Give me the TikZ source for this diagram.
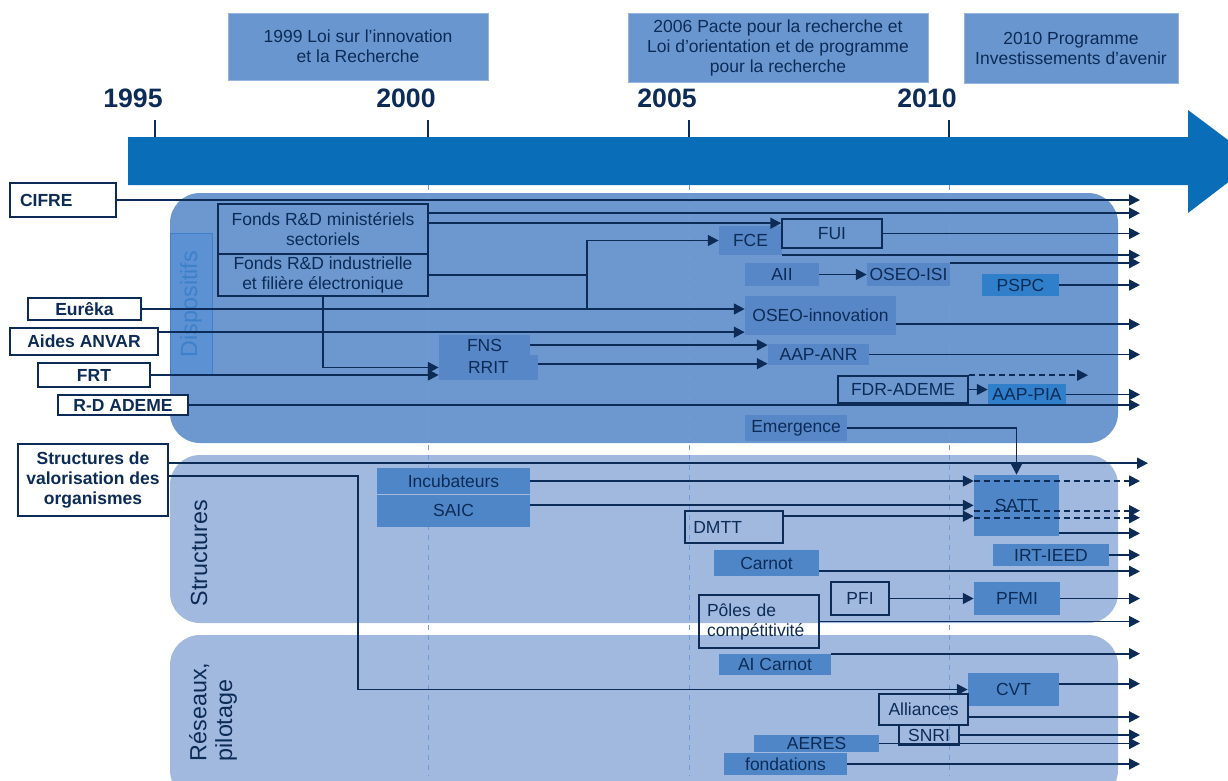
\documentclass[tikz,border=0pt]{standalone}
\usepackage{fontspec}
\setmainfont{Liberation Sans}
\usetikzlibrary{arrows.meta,calc,positioning}

\definecolor{navy}{HTML}{0C2C57}
\definecolor{timeblue}{HTML}{0A6DB7}
\definecolor{lawblue}{HTML}{6A96D0}
\definecolor{dispblue}{HTML}{6C98CF}
\definecolor{structblue}{HTML}{A1B9DF}
\definecolor{boxdark}{HTML}{5887C7}
\definecolor{boxmid}{HTML}{4F86C8}
\definecolor{boxbright}{HTML}{2F7FCB}
\definecolor{gridblue}{HTML}{6F9BD6}
\definecolor{dispbox}{HTML}{5C91D4}
\definecolor{disptext}{HTML}{3F80CA}

\begin{document}
\begin{tikzpicture}[x=0.6pt,y=-0.6pt,
  every node/.style={font=\fontsize{10.5}{12}\selectfont, text=navy, inner sep=1pt, align=center},
  law/.style={fill=lawblue, draw=lawblue!70!white, line width=0.6pt},
  year/.style={font=\fontsize{16}{18}\selectfont\bfseries},
  side/.style={draw=navy, fill=white, line width=1pt, font=\fontsize{10.5}{12}\selectfont\bfseries},
  frame/.style={draw=navy, line width=1pt},
  dark/.style={fill=boxdark},
  mid/.style={fill=boxmid},
  bright/.style={fill=boxbright},
  panel/.style={rounded corners=18pt},
  flow/.style={draw=navy, line width=1.1pt, -{Triangle[length=6.5pt,width=6.5pt]}},
  flowd/.style={flow, dash pattern=on 3.5pt off 2.5pt},
  link/.style={draw=navy, line width=1.1pt},
  grid/.style={gridblue, line width=0.6pt, dash pattern=on 3pt off 3pt},
  sec/.style={font=\fontsize{14}{15.5}\selectfont, rotate=90}
]
\useasboundingbox (0,0) rectangle (1228,780);
\clip (0,0) rectangle (1228,780);

% fonds des trois zones
\fill[dispblue, panel] (170,193) rectangle (1118,443);
\fill[structblue, panel] (170,455) rectangle (1118,623);
\fill[structblue, panel] (170,635) rectangle (1118,800);
\foreach \x in {428,689,949} \draw[grid] (\x,185) -- (\x,776);

% axe du temps
\fill[timeblue] (128,137) -- (1188,137) -- (1188,110) -- (1256,161) -- (1188,213) -- (1188,185) -- (128,185) -- cycle;
\foreach \x/\a in {155/1995,428/2000,689/2005,949/2010} {
  \draw[navy, line width=1.2pt] (\x,120) -- (\x,137);
  \node[year] (y\a) at (\x-22,98) {\a};
}

% lois
\node[law, minimum width=156pt, minimum height=40.2pt] (law1) at (358,46.5) {1999 Loi sur l'innovation\\et la Recherche};
\node[law, minimum width=180pt, minimum height=41.4pt] (law2) at (778,47.5) {2006 Pacte pour la recherche et\\Loi d'orientation et de programme\\pour la recherche};
\node[law, minimum width=128.4pt, minimum height=42pt] (law3) at (1071,48) {2010 Programme\\Investissements d'avenir};

% titres des zones
\node[sec, fill=dispbox, draw=disptext, line width=0.5pt, minimum width=85.2pt, minimum height=25.2pt, text=disptext] (dispo) at (191,304) {Dispositifs};
\node[sec] (struct) at (199,553) {Structures};
\node[sec, align=left] (reseaux) at (213,712) {Réseaux,\\pilotage};

% dispositifs d'origine
\node[side, text width=51.6pt, align=left, inner xsep=6pt, minimum height=20.4pt] (cifre) at (63,200) {CIFRE};
\node[side, minimum width=67.8pt, minimum height=13.2pt] (eureka) at (84.5,309) {Eurêka};
\node[side, minimum width=88.8pt, minimum height=16.2pt] (anvar) at (84,341.5) {Aides ANVAR};
\node[side, minimum width=67.2pt, minimum height=14.4pt] (frt) at (94,375) {FRT};
\node[side, minimum width=78pt, minimum height=12pt] (rdademe) at (123,405) {R-D ADEME};
\node[side, minimum width=90pt, minimum height=43.2pt] (valor) at (93,480) {Structures de\\valorisation des\\organismes};

% Dispositifs
\node[frame, minimum width=126pt, minimum height=30pt] (fmin) at (323,229) {Fonds R\&D ministériels\\sectoriels};
\node[frame, minimum width=126pt, minimum height=25.2pt, below=-1pt of fmin] (find) {Fonds R\&D industrielle\\et filière électronique};
\node[dark, minimum width=54.6pt, minimum height=12pt] (fns) at (484.5,345) {FNS};
\node[dark, minimum width=59.4pt, minimum height=15pt] (rrit) at (488.5,367.5) {RRIT};
\node[dark, minimum width=37.8pt, minimum height=17.4pt] (fce) at (750.5,240.5) {FCE};
\node[frame, minimum width=60pt, minimum height=17.4pt] (fui) at (832,233.5) {FUI};
\node[dark, minimum width=44.4pt, minimum height=13.8pt] (aii) at (782,274.5) {AII};
\node[dark, minimum width=49.8pt, minimum height=13.8pt] (oseoisi) at (908.5,274.5) {OSEO-ISI};
\node[bright, minimum width=46.2pt, minimum height=13.2pt] (pspc) at (1020.5,285) {PSPC};
\node[dark, minimum width=90.6pt, minimum height=23.4pt] (oseoinno) at (820.5,315.5) {OSEO-innovation};
\node[dark, minimum width=60.6pt, minimum height=12.6pt] (aapanr) at (818.5,354.5) {AAP-ANR};
\node[frame, minimum width=78pt, minimum height=16.2pt] (fdr) at (903,389.5) {FDR-ADEME};
\node[bright, minimum width=46.8pt, minimum height=12.6pt] (aappia) at (1027,394.5) {AAP-PIA};
\node[dark, minimum width=61.2pt, minimum height=15.6pt] (emerg) at (796,428) {Emergence};

% Structures
\node[mid, minimum width=91.8pt, minimum height=15.6pt] (incub) at (453.5,481) {Incubateurs};
\node[mid, minimum width=91.8pt, minimum height=19.2pt, below=0pt of incub] (saic) {SAIC};
\node[mid, minimum width=51pt, minimum height=36.6pt] (satt) at (1016.5,505.5) {SATT};
\node[frame, text width=48.8pt, align=left, inner xsep=5pt, minimum height=19.2pt] (dmtt) at (734,527) {DMTT};
\node[mid, minimum width=63pt, minimum height=15.6pt] (carnot) at (766.5,563) {Carnot};
\node[mid, minimum width=69.6pt, minimum height=13.2pt] (irt) at (1051,555) {IRT-IEED};
\node[frame, minimum width=34.8pt, minimum height=19.8pt] (pfi) at (860,598.5) {PFI};
\node[mid, minimum width=51.6pt, minimum height=19.8pt] (pfmi) at (1017,598.5) {PFMI};
\node[frame, text width=62.4pt, align=left, inner xsep=4.8pt, minimum height=31.8pt] (poles) at (759,621.5) {Pôles de\\compétitivité};

% Reseaux, pilotage
\node[mid, minimum width=67.2pt, minimum height=12.6pt] (aicarnot) at (775,664.5) {AI Carnot};
\node[mid, minimum width=54.6pt, minimum height=19.8pt] (cvt) at (1013.5,689.5) {CVT};
\node[frame, minimum width=53.4pt, minimum height=18.6pt] (alliances) at (923.5,709.5) {Alliances};
\node[frame, minimum width=36pt, minimum height=12pt] (snri) at (929,735) {SNRI};
\node[mid, minimum width=75pt, minimum height=10.2pt] (aeres) at (816.5,743.5) {AERES};
\node[mid, minimum width=73.8pt, minimum height=13.2pt] (fond) at (785.5,764) {fondations};

% points de depart et d'arrivee
\coordinate (endx) at (1140,0);
\coordinate (endl) at (1148,0);
\coordinate (jx) at (587,0);
\coordinate (vx) at (358,0);
\coordinate (dashend) at (1088,0);
\coordinate (fmA) at ($(fmin.north east)+(0,10)$);
\coordinate (fmB) at ($(fmin.north east)+(0,20)$);
\coordinate (anv) at ($(anvar.north east)+(0,5)$);
\coordinate (rrA) at ($(rrit.north east)+(0,9)$);
\coordinate (oiA) at ($(oseoinno.south east)+(0,-11)$);
\coordinate (vaA) at ($(valor.north east)+(0,20)$);
\coordinate (vaB) at ($(valor.north east)+(0,33)$);
\coordinate (saA) at ($(saic.north east)+(0,11)$);
\coordinate (dmA) at ($(dmtt.north east)+(0,6)$);
\coordinate (stA) at ($(satt.north west)+(0,36)$);
\coordinate (stB) at ($(satt.north west)+(0,43)$);
\coordinate (stC) at ($(satt.south east)+(0,-3)$);
\coordinate (caA) at ($(carnot.south east)+(0,-5)$);
\coordinate (cvA) at ($(cvt.north east)+(0,11)$);
\coordinate (alA) at ($(alliances.south east)+(0,-9)$);

% fleches vers aujourd'hui
\foreach \s in {cifre.east,fmA,fui.east,fce.south east,oseoisi.north east,pspc.east,oiA,aapanr.east,aappia.east,rdademe.east,stC,irt.east,caA,pfmi.east,poles.east,aicarnot.north east,cvA,alA,snri.east,aeres.east,fond.east}
  \draw[flow] (\s) -- (\s -| endx);
\draw[flow] (vaA) -- (vaA -| endl);

% filiations
\draw[flow] (fmB) -- (fmB -| fui.west);
\draw[link] (find.east) -- (find.east -| jx);
\draw[flow] (eureka.east -| jx) |- (fce.west);
\draw[flow] (eureka.east) -- (eureka.east -| oseoinno.west);
\draw[flow] (anv) -- (anv -| oseoinno.west);
\draw[flow] (fns.east) -- (fns.east -| aapanr.west);
\draw[flow] (rrA) -- (rrA -| aapanr.west);
\draw[flow] (find.south) |- (rrit.west);
\draw[flow] (frt.east) -- (frt.east -| rrit.west);
\draw[flow] (aii.east) -- (oseoisi.west);
\draw[flow] (fdr.east) -- (fdr.east -| aappia.west);
\draw[flowd] (fdr.north east) -- (fdr.north east -| dashend);
\draw[flow] (emerg.east) -| (satt.north);
\draw[flow] (vaB) -- (vaB -| vx) |- (cvt.west);
\draw[flow] (incub.east) -- (incub.east -| satt.west);
\draw[flowd] (incub.east -| satt.west) -- (incub.east -| endx);
\draw[flow] (saA) -- (saA -| satt.west);
\draw[flow] (dmA) -- (dmA -| satt.west);
\draw[flowd] (stA) -- (stA -| endx);
\draw[flowd] (stB) -- (stB -| endx);
\draw[flow] (pfi.east) -- (pfmi.west);
\end{tikzpicture}
\end{document}
